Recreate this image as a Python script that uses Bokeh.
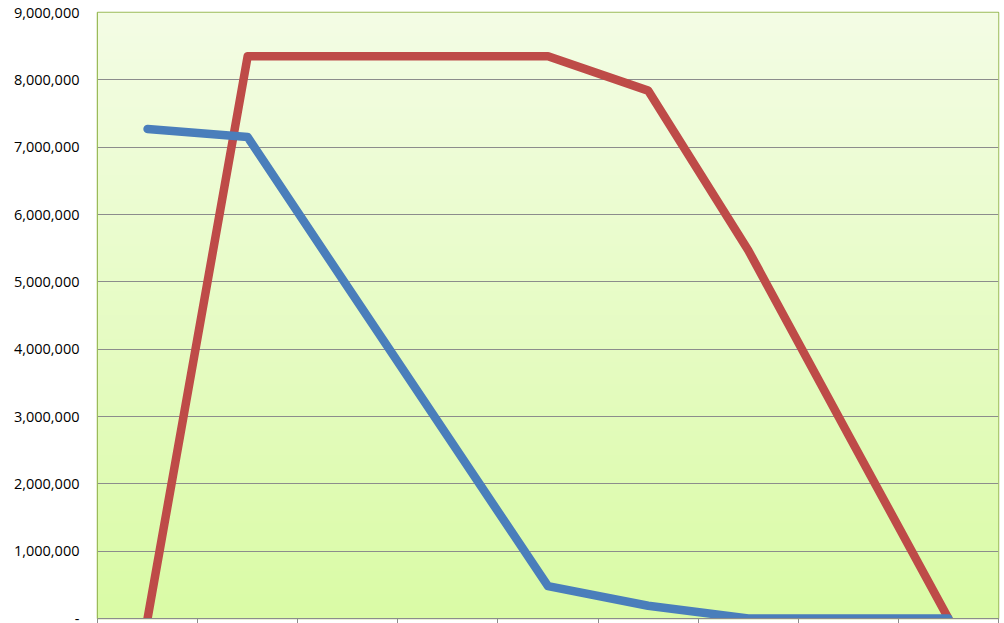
import numpy as np
from bokeh.plotting import figure
from bokeh.models import Range1d, FixedTicker
from bokeh.embed import file_html
from bokeh.resources import INLINE

categories = list(range(9))
series_blue = [7270000, 7150000, 4920000, 2700000, 480000, 190000, 0, 0, 0]
series_red = [0, 8350000, 8350000, 8350000, 8350000, 7840000, 5470000, 2730000, 0]
y_ticks = [0, 1000000, 2000000, 3000000, 4000000, 5000000, 6000000, 7000000, 8000000, 9000000]
y_tick_labels = ["-", "1,000,000", "2,000,000", "3,000,000", "4,000,000", "5,000,000",
                 "6,000,000", "7,000,000", "8,000,000", "9,000,000"]

p = figure(width=1000, height=623, output_backend="svg", toolbar_location=None,
           x_range=Range1d(-0.5, 8.5), y_range=Range1d(0, 9000000),
           min_border_left=97, min_border_top=12, min_border_right=2, min_border_bottom=0)

# gradient background
n = 256
t = np.linspace(0, 1, n)[:, None]  # bottom -> top
top = np.array([244, 253, 229])
bot = np.array([218, 251, 166])
rgb = (bot + (top - bot) * t).astype(np.uint32)
img = np.empty((n, 1), dtype=np.uint32)
view = img.view(dtype=np.uint8).reshape((n, 1, 4))
view[:, :, 0] = rgb[:, 0:1]
view[:, :, 1] = rgb[:, 1:2]
view[:, :, 2] = rgb[:, 2:3]
view[:, :, 3] = 255
p.image_rgba(image=[img], x=-0.5, y=0, dw=9, dh=9000000, level="image")

p.background_fill_color = "white"
p.border_fill_color = "white"
p.outline_line_color = "#9bbb59"
p.outline_line_width = 1.5

p.xgrid.visible = False
p.ygrid.grid_line_color = "#8c8c8c"
p.ygrid.grid_line_width = 1
p.ygrid.ticker = FixedTicker(ticks=y_ticks[1:-1])

p.yaxis.ticker = FixedTicker(ticks=y_ticks)
p.yaxis.major_label_overrides = {v: s for v, s in zip(y_ticks, y_tick_labels)}
p.yaxis.major_tick_out = 0
p.yaxis.major_tick_in = 0
p.yaxis.minor_tick_out = 0
p.yaxis.minor_tick_in = 0
p.yaxis.major_label_standoff = 18
p.yaxis.axis_line_color = "#9bbb59"
p.yaxis.major_label_text_font = "Open Sans"
p.yaxis.major_label_text_font_size = "14.5px"
p.yaxis.major_label_text_color = "#000000"

x_edges = [c - 0.5 for c in categories] + [categories[-1] + 0.5]
p.xaxis.ticker = FixedTicker(ticks=x_edges)
p.xaxis.major_label_overrides = {v: "" for v in x_edges}
p.xaxis.major_label_text_font_size = "1px"
p.xaxis.major_label_standoff = 0
p.xaxis.major_tick_out = 5
p.xaxis.major_tick_in = 0
p.xaxis.minor_tick_out = 0
p.xaxis.minor_tick_in = 0
p.xaxis.axis_line_color = "#8c8c8c"
p.xaxis.major_tick_line_color = "#8c8c8c"

p.line(categories, series_red, line_color="#be4b48", line_width=8.5,
       line_join="round", line_cap="round")
p.line(categories, series_blue, line_color="#4a7ebb", line_width=8.5,
       line_join="round", line_cap="round")

open("out.html", "w").write(file_html(p, INLINE))
